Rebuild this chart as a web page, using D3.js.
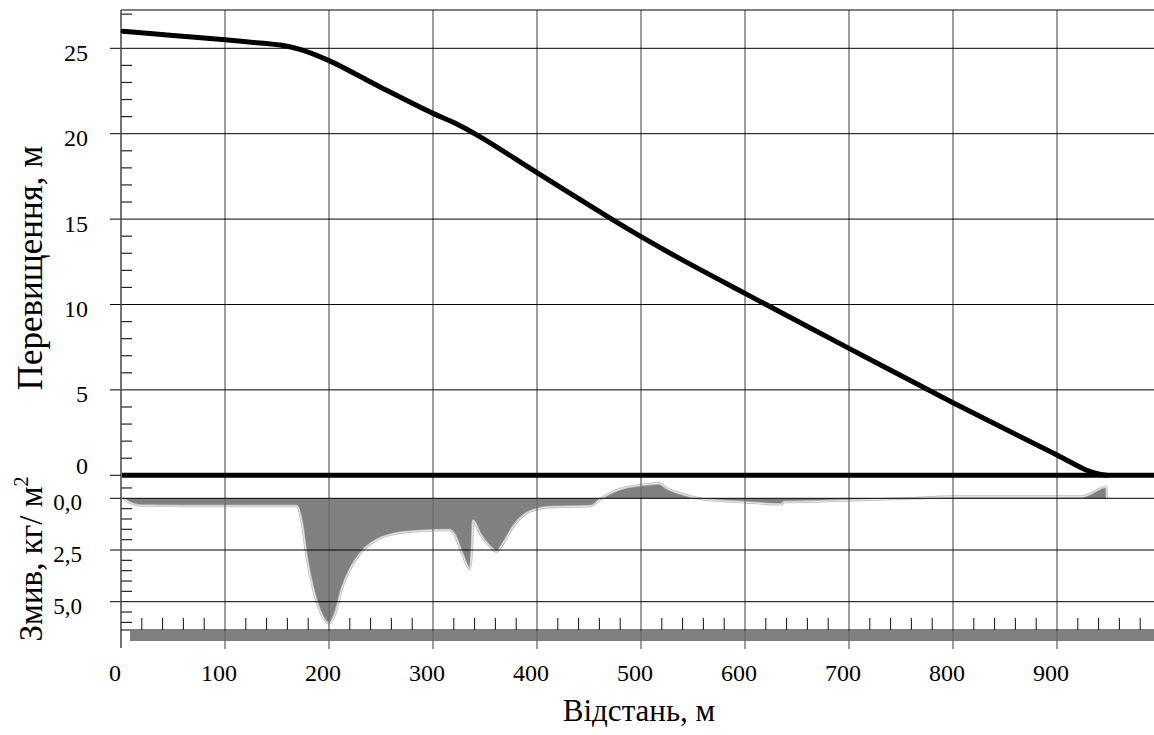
<!DOCTYPE html>
<html>
<head>
<meta charset="utf-8">
<script src="https://cdn.jsdelivr.net/npm/d3@7/dist/d3.min.js"></script>
<style>
  body { margin: 0; background: #fff; }
  svg { display: block; font-family: "Liberation Serif", "DejaVu Serif", serif; }
</style>
</head>
<body>
<div id="chart"></div>
<script>
'use strict';

// elevation profile (Перевищення, м)
var elevX = [2, 50, 100, 125, 153, 172, 200, 250, 300, 320, 345, 400, 473, 500, 537, 600, 700, 800, 900, 928, 940, 948];
var elevY = [26.0, 25.75, 25.5, 25.36, 25.19, 24.94, 24.28, 22.71, 21.19, 20.65, 19.83, 17.72, 14.95, 13.97, 12.7, 10.65, 7.43, 4.25, 1.19, 0.31, 0.08, 0];

// washoff (Змив, кг/м2), positive = downward
var washX = [2, 8, 18, 60, 120, 169, 174, 178.5, 185, 191, 200, 206, 212, 220, 233, 246, 265, 287, 316, 320, 328, 335.5, 337.5, 338.5, 345, 355, 361, 367.5, 377, 390, 400, 409, 425, 452, 460.6, 470, 486, 501, 517, 525, 537.5, 557, 576, 600, 635, 637.5, 662, 710, 760, 800, 923.7, 947.8, 948];
var washY = [0, 0.2, 0.35, 0.37, 0.37, 0.37, 1.21, 2.82, 4.43, 5.4, 6.04, 5.56, 4.43, 3.46, 2.5, 2.01, 1.69, 1.58, 1.53, 1.69, 2.66, 3.43, 2.34, 1.08, 1.69, 2.34, 2.58, 2.17, 1.37, 0.72, 0.53, 0.43, 0.41, 0.37, 0.05, -0.24, -0.53, -0.64, -0.72, -0.48, -0.24, 0.02, 0.12, 0.19, 0.29, 0.18, 0.16, 0.08, 0.0, -0.08, -0.08, -0.56, 0];

var xTicks = [0, 100, 200, 300, 400, 500, 600, 700, 800, 900];
var elevTicks = [0, 5, 10, 15, 20, 25];
var elevLabels = ['0', '5', '10', '15', '20', '25'];
var washTicks = [0, 2.5, 5];
var washLabels = ['0,0', '2,5', '5,0'];

var width = 1154;
var height = 735;
var plotLeft = 121;
var plotTop = 10;
var plotBottom = 630;

var svg = d3.select('#chart').append('svg')
    .attr('width', width)
    .attr('height', height);

var x = d3.scaleLinear().domain([0, 1000]).range([plotLeft, plotLeft + 1040]);
var yElev = d3.scaleLinear().domain([0, 25]).range([475.3, 48.3]);
var yWash = d3.scaleLinear().domain([0, 5]).range([498.3, 601.7]);

// washoff area (drawn under the grid)
var wash = washX.map(function(d, i) { return {x: d, y: washY[i]}; });
svg.append('path')
    .datum(wash)
    .attr('d', d3.area()
        .x(function(d) { return x(d.x); })
        .y0(yWash(0))
        .y1(function(d) { return yWash(d.y); })
        .curve(d3.curveMonotoneX))
    .attr('fill', '#808080');

var washLine = d3.line()
    .x(function(d) { return x(d.x); })
    .y(function(d) { return yWash(d.y); })
    .curve(d3.curveMonotoneX);
svg.append('path').datum(wash).attr('d', washLine)
    .attr('fill', 'none').attr('stroke', '#bcbcbc').attr('stroke-width', 2.6);
svg.append('path').datum(wash).attr('d', washLine)
    .attr('fill', 'none').attr('stroke', '#f4f4f4').attr('stroke-width', 0.8);

// bottom gray bar
svg.append('rect')
    .attr('x', 130).attr('y', 631)
    .attr('width', width - 130).attr('height', 10)
    .attr('fill', '#808080');

// vertical grid / major x ticks
svg.append('g').selectAll('line')
    .data(xTicks.slice(1))
    .enter().append('line')
        .attr('x1', function(d) { return x(d); })
        .attr('x2', function(d) { return x(d); })
        .attr('y1', plotTop).attr('y2', 649)
        .attr('stroke', '#6a6a6a').attr('stroke-width', 1.3);

// minor x ticks
var minorX = d3.range(20, 1000, 20).filter(function(d) { return d % 100 !== 0; });
svg.append('g').selectAll('line')
    .data(minorX)
    .enter().append('line')
        .attr('x1', function(d) { return x(d); })
        .attr('x2', function(d) { return x(d); })
        .attr('y1', 618).attr('y2', plotBottom)
        .attr('stroke', '#111').attr('stroke-width', 1);

// horizontal grid, upper
svg.append('g').selectAll('line')
    .data(elevTicks.slice(1))
    .enter().append('line')
        .attr('x1', 110).attr('x2', width)
        .attr('y1', function(d) { return yElev(d); })
        .attr('y2', function(d) { return yElev(d); })
        .attr('stroke', '#000').attr('stroke-width', 1);

// horizontal grid, lower
svg.append('g').selectAll('line')
    .data(washTicks)
    .enter().append('line')
        .attr('x1', 110).attr('x2', width)
        .attr('y1', function(d) { return yWash(d); })
        .attr('y2', function(d) { return yWash(d); })
        .attr('stroke', '#000').attr('stroke-width', 1);

// minor y ticks
var minorElev = d3.range(1, 28).filter(function(d) { return d % 5 !== 0; });
svg.append('g').selectAll('line')
    .data(minorElev)
    .enter().append('line')
        .attr('x1', plotLeft).attr('x2', 132)
        .attr('y1', function(d) { return yElev(d); })
        .attr('y2', function(d) { return yElev(d); })
        .attr('stroke', '#222').attr('stroke-width', 1.2);

var minorWash = d3.range(-0.5, 6.01, 0.5).filter(function(d) { return Math.abs(d % 2.5) > 0.01; });
svg.append('g').selectAll('line')
    .data(minorWash)
    .enter().append('line')
        .attr('x1', plotLeft).attr('x2', 132)
        .attr('y1', function(d) { return yWash(d); })
        .attr('y2', function(d) { return yWash(d); })
        .attr('stroke', '#222').attr('stroke-width', 1.2);

// frame: top, left, bottom axis lines
svg.append('line').attr('x1', plotLeft).attr('x2', width).attr('y1', plotTop).attr('y2', plotTop)
    .attr('stroke', '#000').attr('stroke-width', 1);
svg.append('line').attr('x1', plotLeft).attr('x2', plotLeft).attr('y1', plotTop).attr('y2', 648)
    .attr('stroke', '#444').attr('stroke-width', 1.5);
svg.append('line').attr('x1', plotLeft).attr('x2', width).attr('y1', plotBottom).attr('y2', plotBottom)
    .attr('stroke', '#000').attr('stroke-width', 1);

// thick zero line of elevation
svg.append('line').attr('x1', 110).attr('x2', plotLeft).attr('y1', yElev(0)).attr('y2', yElev(0))
    .attr('stroke', '#000').attr('stroke-width', 1);
svg.append('line').attr('x1', plotLeft + 1).attr('x2', width).attr('y1', yElev(0)).attr('y2', yElev(0))
    .attr('stroke', '#000').attr('stroke-width', 5);

// elevation line
var elev = elevX.map(function(d, i) { return {x: d, y: elevY[i]}; });
svg.append('path')
    .datum(elev)
    .attr('d', d3.line()
        .x(function(d) { return x(d.x); })
        .y(function(d) { return yElev(d.y); })
        .curve(d3.curveCatmullRom.alpha(0.5)))
    .attr('fill', 'none')
    .attr('stroke', '#000')
    .attr('stroke-width', 5)
    .attr('stroke-linecap', 'round');

// tick labels
svg.append('g').selectAll('text')
    .data(elevTicks)
    .enter().append('text')
        .attr('x', 88)
        .attr('y', function(d) { return d === 0 ? yElev(d) - 10 : yElev(d) + 4; })
        .attr('dy', '0.35em')
        .attr('text-anchor', 'end')
        .attr('font-size', 24)
        .text(function(d, i) { return elevLabels[i]; });

svg.append('g').selectAll('text')
    .data(washTicks)
    .enter().append('text')
        .attr('x', 82)
        .attr('y', function(d) { return yWash(d) + 4; })
        .attr('dy', '0.35em')
        .attr('text-anchor', 'end')
        .attr('font-size', 23)
        .text(function(d, i) { return washLabels[i]; });

svg.append('g').selectAll('text')
    .data(xTicks)
    .enter().append('text')
        .attr('x', function(d) { return x(d) - 6; })
        .attr('y', 681)
        .attr('text-anchor', 'middle')
        .attr('font-size', 24)
        .text(function(d) { return d; });

// axis titles
svg.append('text')
    .attr('transform', 'translate(42,268) rotate(-90)')
    .attr('text-anchor', 'middle')
    .attr('font-size', 35)
    .text('Перевищення, м');

var washTitle = svg.append('text')
    .attr('transform', 'translate(42,559) rotate(-90)')
    .attr('text-anchor', 'middle')
    .attr('font-size', 33);
washTitle.append('tspan').text('Змив, кг/ м');
washTitle.append('tspan').attr('font-size', 20).attr('dy', -14).text('2');

svg.append('text')
    .attr('x', 639)
    .attr('y', 721)
    .attr('text-anchor', 'middle')
    .attr('font-size', 31)
    .text('Відстань, м');
</script>
</body>
</html>
